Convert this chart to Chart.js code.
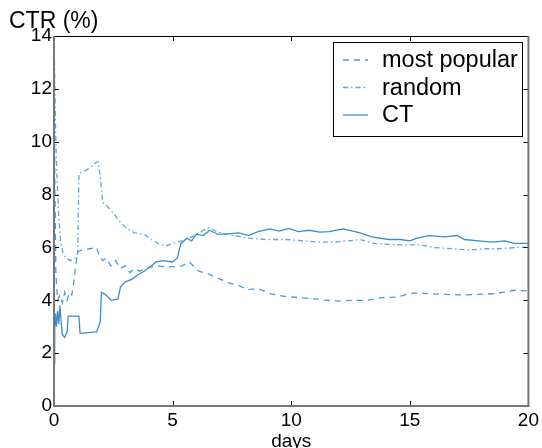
<!DOCTYPE html>
<html>
<head>
<meta charset="utf-8">
<script src="https://cdn.jsdelivr.net/npm/chart.js@4.4.1/dist/chart.umd.min.js"></script>
<style>
    html, body { margin: 0; padding: 0; background: #fff; }
    canvas { display: block; }
</style>
</head>
<body>
<canvas id="ctr" width="542" height="448"></canvas>
<script>
// values (days -> CTR %)
const popularDays = [0, 0.03, 0.08, 0.15, 0.25, 0.35, 0.45, 0.55, 0.65, 0.75, 0.82, 0.9, 1.0, 1.2, 1.5, 1.8, 1.9, 2.05, 2.2, 2.4, 2.6, 2.8, 3.0, 3.2, 3.4, 3.6, 4.0, 4.4, 4.8, 5.0, 5.4, 5.7, 6.1, 6.5, 7.0, 7.4, 7.8, 8.2, 8.6, 9.1, 9.7, 10.3, 11, 11.5, 12, 12.6, 13.2, 13.8, 14.4, 15.2, 15.8, 16.5, 17.2, 17.8, 18.6, 19.4, 20];
const popularCtr = [14, 9, 5, 4.0, 4.2, 3.9, 4.3, 4.0, 4.3, 4.2, 4.6, 5.2, 5.85, 5.9, 5.95, 6.0, 5.7, 5.5, 5.6, 5.3, 5.5, 5.2, 5.3, 5.05, 5.2, 5.1, 5.25, 5.3, 5.25, 5.27, 5.3, 5.45, 5.1, 5.0, 4.8, 4.65, 4.55, 4.4, 4.45, 4.25, 4.15, 4.1, 4.05, 4.0, 3.97, 4.0, 4.0, 4.1, 4.12, 4.28, 4.25, 4.22, 4.2, 4.22, 4.25, 4.38, 4.35];

const randomDays = [0, 0.04, 0.08, 0.13, 0.2, 0.28, 0.38, 0.5, 0.7, 0.9, 1.0, 1.05, 1.2, 1.5, 1.75, 1.85, 1.95, 2.05, 2.2, 2.5, 2.8, 3.1, 3.4, 3.8, 4.1, 4.4, 4.7, 5.0, 5.4, 5.8, 6.2, 6.5, 7.0, 7.6, 8.2, 9.0, 9.8, 10.5, 11.2, 11.8, 12.4, 12.9, 13.5, 14.5, 15.4, 16.0, 16.8, 17.5, 18.2, 18.7, 19.6, 20];
const randomCtr = [14, 12, 10, 8.5, 7.2, 6.2, 5.8, 5.6, 5.5, 5.6, 5.8, 8.8, 8.85, 9.0, 9.2, 9.25, 8.7, 7.7, 7.6, 7.3, 6.95, 6.7, 6.55, 6.5, 6.3, 6.15, 6.05, 6.15, 6.25, 6.4, 6.6, 6.75, 6.55, 6.45, 6.35, 6.3, 6.3, 6.25, 6.2, 6.2, 6.25, 6.3, 6.15, 6.1, 6.1, 6.0, 5.95, 5.9, 5.95, 5.95, 6.0, 6.0];

const ctDays = [0, 0.03, 0.06, 0.1, 0.15, 0.2, 0.25, 0.3, 0.35, 0.45, 0.55, 0.6, 0.9, 1.05, 1.1, 1.8, 1.95, 2.0, 2.2, 2.4, 2.7, 2.8, 3.0, 3.3, 3.5, 3.8, 4.1, 4.3, 4.6, 5.0, 5.2, 5.35, 5.6, 5.8, 6.0, 6.3, 6.55, 6.9, 7.2, 7.8, 8.2, 8.6, 9.1, 9.5, 9.9, 10.3, 10.75, 11.2, 11.6, 12.2, 12.9, 13.4, 14.1, 14.6, 15.0, 15.3, 15.8, 16.5, 17.0, 17.3, 17.9, 18.5, 19.0, 19.4, 20];
const ctCtr = [1.6, 3.0, 3.5, 3.0, 3.6, 3.1, 3.8, 3.2, 2.7, 2.6, 2.8, 3.4, 3.4, 3.4, 2.75, 2.8, 3.2, 4.3, 4.2, 4.0, 4.05, 4.5, 4.7, 4.8, 4.95, 5.1, 5.3, 5.45, 5.5, 5.45, 5.6, 6.15, 6.35, 6.25, 6.5, 6.45, 6.65, 6.5, 6.5, 6.55, 6.45, 6.6, 6.7, 6.62, 6.72, 6.6, 6.65, 6.58, 6.6, 6.7, 6.55, 6.4, 6.3, 6.3, 6.25, 6.35, 6.45, 6.4, 6.45, 6.3, 6.25, 6.2, 6.25, 6.15, 6.15];

const xTicks = [0, 5, 10, 15, 20];
const yTicks = [0, 2, 4, 6, 8, 10, 12, 14];

const FONT = '"Liberation Sans", Arial, sans-serif';

function points(days, values) {
    return days.map((d, i) => ({ x: d, y: values[i] }));
}

function line(ctx, x1, y1, x2, y2) {
    ctx.beginPath();
    ctx.moveTo(x1, y1);
    ctx.lineTo(x2, y2);
    ctx.stroke();
}

// matlab style box with inward ticks, the two titles and the boxed legend
const frame = {
    id: 'frame',
    afterDatasetsDraw(chart) {
        const { ctx, chartArea: a, scales } = chart;
        ctx.save();

        ctx.strokeStyle = '#000';
        ctx.lineWidth = 1;
        xTicks.forEach((v) => {
            const px = Math.round(scales.x.getPixelForValue(v)) + 0.5;
            line(ctx, px, a.bottom, px, a.bottom - 5);
            line(ctx, px, a.top, px, a.top + 5);
        });
        yTicks.forEach((v) => {
            const py = Math.round(scales.y.getPixelForValue(v)) + 0.5;
            line(ctx, a.left, py, a.left + 5, py);
            line(ctx, a.right, py, a.right - 5, py);
        });

        line(ctx, a.left, a.top + 0.5, a.right, a.top + 0.5);
        ctx.strokeStyle = '#777';
        ctx.lineWidth = 2;
        ctx.beginPath();
        ctx.moveTo(a.left, a.top);
        ctx.lineTo(a.left, a.bottom);
        ctx.lineTo(a.right, a.bottom);
        ctx.lineTo(a.right, a.top);
        ctx.stroke();

        ctx.fillStyle = '#000';
        ctx.font = '23px ' + FONT;
        ctx.textAlign = 'left';
        ctx.textBaseline = 'alphabetic';
        ctx.fillText('CTR (%)', 9, 28);

        ctx.font = '19px ' + FONT;
        ctx.textAlign = 'center';
        ctx.fillText('days', (a.left + a.right) / 2, 447);

        // legend
        const box = { left: 333.5, top: 42.5, right: 522.5, bottom: 136.5 };
        ctx.fillStyle = '#fff';
        ctx.fillRect(box.left, box.top, box.right - box.left, box.bottom - box.top);
        ctx.strokeStyle = '#000';
        ctx.lineWidth = 1;
        ctx.strokeRect(box.left, box.top, box.right - box.left, box.bottom - box.top);

        ctx.font = '23.5px ' + FONT;
        ctx.textAlign = 'left';
        ctx.textBaseline = 'middle';
        chart.data.datasets.forEach((ds, i) => {
            const cy = 60 + i * 27.5;
            ctx.strokeStyle = ds.borderColor;
            ctx.lineWidth = ds.borderWidth;
            ctx.setLineDash(ds.borderDash || []);
            line(ctx, 343, cy, 368, cy);
            ctx.setLineDash([]);
            ctx.fillStyle = '#000';
            ctx.fillText(ds.label, 382, cy + 1);
        });

        ctx.restore();
    },
};

new Chart(document.getElementById('ctr'), {
    type: 'line',
    data: {
        datasets: [
            {
                label: 'most popular',
                data: points(popularDays, popularCtr),
                borderColor: '#4a9bd0',
                borderDash: [6, 5],
                borderWidth: 1.3,
            },
            {
                label: 'random',
                data: points(randomDays, randomCtr),
                borderColor: '#5aa6d6',
                borderDash: [5, 3, 1.5, 3],
                borderWidth: 1.3,
            },
            {
                label: 'CT',
                data: points(ctDays, ctCtr),
                borderColor: '#3b8fc6',
                borderWidth: 1.3,
            },
        ],
    },
    options: {
        responsive: false,
        animation: false,
        devicePixelRatio: 1,
        layout: { padding: { top: 36, right: 12, bottom: 0, left: 0 } },
        elements: {
            point: { radius: 0 },
            line: { tension: 0, fill: false },
        },
        scales: {
            x: {
                type: 'linear',
                min: 0,
                max: 20,
                afterBuildTicks: (s) => { s.ticks = xTicks.map((v) => ({ value: v })); },
                afterFit: (s) => { s.height = 42; },
                grid: { display: false, drawTicks: false },
                border: { display: false },
                ticks: {
                    color: '#000',
                    padding: 3,
                    maxRotation: 0,
                    font: { family: FONT, size: 19 },
                },
            },
            y: {
                type: 'linear',
                min: 0,
                max: 14,
                afterBuildTicks: (s) => { s.ticks = yTicks.map((v) => ({ value: v })); },
                afterFit: (s) => { s.width = 54; },
                grid: { display: false, drawTicks: false },
                border: { display: false },
                ticks: {
                    color: '#000',
                    padding: 2,
                    font: { family: FONT, size: 19 },
                },
            },
        },
        plugins: {
            legend: { display: false },
            tooltip: { enabled: false },
        },
    },
    plugins: [frame],
});
</script>
</body>
</html>
